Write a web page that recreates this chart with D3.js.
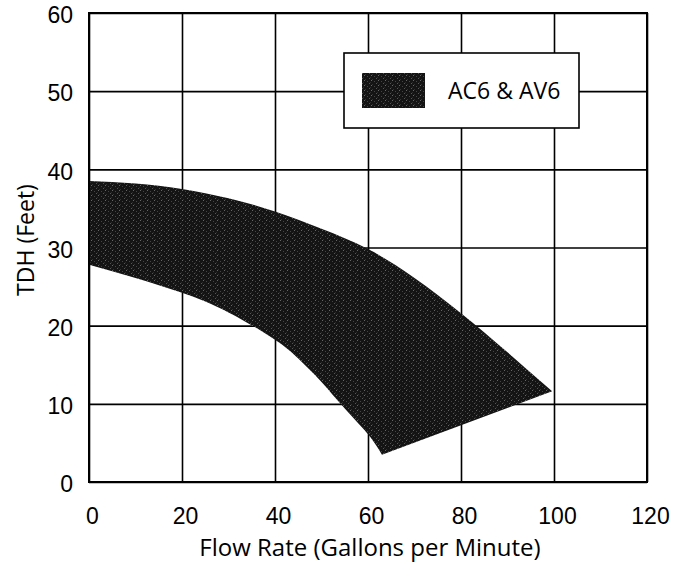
<!DOCTYPE html>
<html>
<head>
<meta charset="utf-8">
<script src="https://cdn.jsdelivr.net/npm/d3@7"></script>
<style>
  html, body { margin: 0; padding: 0; background: #fff; }
  svg { display: block; }
</style>
</head>
<body>
<svg id="chart" width="684" height="562"></svg>
<script>
// ---- data ----
const xTicks = [0, 20, 40, 60, 80, 100, 120];
const yTicks = [0, 10, 20, 30, 40, 50, 60];
const seriesName = "AC6 & AV6";
// upper edge of the band (flow gpm, head ft)
const upperFlow = [0, 10, 20, 30, 40, 50, 60, 70, 80, 90, 99.6];
const upperHead = [38.5, 38.2, 37.5, 36.3, 34.6, 32.4, 29.8, 26.1, 21.6, 16.6, 11.6];
// lower edge of the band
const lowerFlow = [0, 10, 20, 30, 40, 45, 50, 55, 60, 63];
const lowerHead = [27.8, 26.1, 24.2, 21.7, 18.2, 15.8, 12.8, 9.4, 6.1, 3.5];

// ---- layout ----
const svg = d3.select("#chart");
const x = d3.scaleLinear().domain([0, 120]).range([89, 647]);
const y = d3.scaleLinear().domain([0, 60]).range([482, 13]);
const FS = 23;
const tickFont = "'Liberation Sans', Arial, sans-serif";
const textFont = "'Open Sans', 'DejaVu Sans', sans-serif";

// pattern for the speckled band
const defs = svg.append("defs");
const pat = defs.append("pattern").attr("id", "speck")
  .attr("patternUnits", "userSpaceOnUse").attr("width", 7).attr("height", 5);
pat.append("rect").attr("width", 7).attr("height", 5).attr("fill", "#141414");
[[0,0,"#666"],[3,1,"#444"],[5,3,"#555"],[1,4,"#333"],[6,2,"#2c2c2c"]].forEach(([px,py,c]) => {
  pat.append("rect").attr("x", px).attr("y", py).attr("width", 1).attr("height", 1).attr("fill", c);
});

// gridlines
const gx = svg.append("g").attr("transform", `translate(0,${y(0)})`)
  .call(d3.axisBottom(x).tickValues(xTicks).tickSize(-(y(0) - y(60))).tickFormat(""));
gx.select(".domain").remove();
gx.selectAll("line").attr("stroke", "#000").attr("stroke-width", 1.6);
const gy = svg.append("g").attr("transform", `translate(${x(0)},0)`)
  .call(d3.axisLeft(y).tickValues(yTicks).tickSize(-(x(120) - x(0))).tickFormat(""));
gy.select(".domain").remove();
gy.selectAll("line").attr("stroke", "#000").attr("stroke-width", 1.6);

// band
const upperPts = upperFlow.map((f, i) => [x(f), y(upperHead[i])]);
const lowerPts = lowerFlow.map((f, i) => [x(f), y(lowerHead[i])]).reverse();
const line = d3.line().curve(d3.curveNatural);
const dTop = line(upperPts);
const dBot = line(lowerPts).replace(/^M/, "L");
svg.append("path").attr("d", dTop + dBot + "Z")
  .attr("fill", "url(#speck)").attr("stroke", "none");

// border
svg.append("rect").attr("x", x(0)).attr("y", y(60))
  .attr("width", x(120) - x(0)).attr("height", y(0) - y(60))
  .attr("fill", "none").attr("stroke", "#000").attr("stroke-width", 2);

// tick labels
const ax = svg.append("g").attr("transform", `translate(0,${y(0)})`)
  .call(d3.axisBottom(x).tickValues(xTicks).tickSize(0).tickPadding(26));
ax.select(".domain").remove();
ax.selectAll("text").style("font-size", FS + "px").style("font-family", tickFont).attr("fill", "#000")
  .attr("dx", 3);
const ay = svg.append("g").attr("transform", `translate(${x(0)},0)`)
  .call(d3.axisLeft(y).tickValues(yTicks).tickSize(0).tickPadding(16));
ay.select(".domain").remove();
ay.selectAll("text").style("font-size", FS + "px").style("font-family", tickFont).attr("fill", "#000")
  .attr("dy", "0.42em");

// axis titles
svg.append("text").attr("x", 370).attr("y", 556).attr("text-anchor", "middle")
  .style("font-family", textFont).style("font-size", "24px").attr("fill", "#000")
  .text("Flow Rate (Gallons per Minute)");
svg.append("text").attr("transform", `translate(34,240) rotate(-90)`).attr("text-anchor", "middle")
  .style("font-family", textFont).style("font-size", FS + "px").attr("fill", "#000")
  .text("TDH (Feet)");

// legend
const lg = svg.append("g");
lg.append("rect").attr("x", 344).attr("y", 53).attr("width", 235).attr("height", 75)
  .attr("fill", "#fff").attr("stroke", "#000").attr("stroke-width", 1.6);
lg.append("rect").attr("x", 362).attr("y", 73).attr("width", 63).attr("height", 35)
  .attr("fill", "url(#speck)");
lg.append("text").attr("x", 448).attr("y", 99)
  .style("font-family", textFont).style("font-size", FS + "px").attr("fill", "#000")
  .text(seriesName);
</script>
</body>
</html>
